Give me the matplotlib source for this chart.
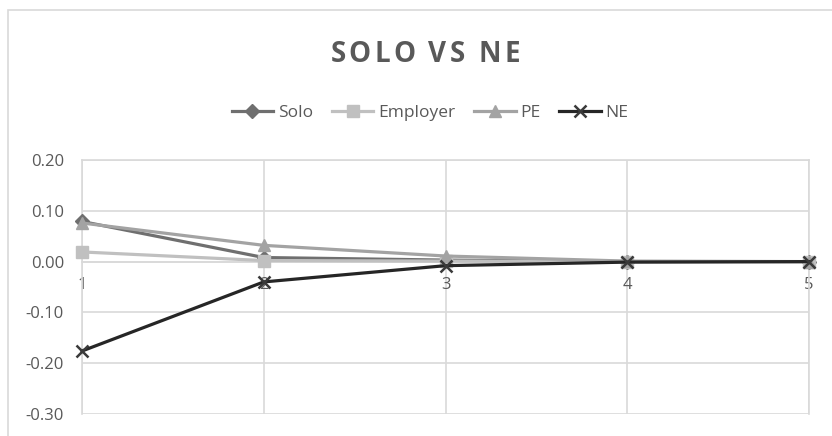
import matplotlib
matplotlib.use("Agg")
import matplotlib.pyplot as plt
from matplotlib.patches import Rectangle

categories = [1, 2, 3, 4, 5]
solo = [0.079, 0.008, 0.003, 0.000, 0.000]
employer = [0.019, 0.002, 0.001, 0.000, 0.000]
pe = [0.076, 0.032, 0.011, 0.001, 0.000]
ne = [-0.176, -0.040, -0.008, -0.001, 0.000]
yticks = [-0.30, -0.20, -0.10, 0.00, 0.10, 0.20]
title = "SOLO VS NE"

plt.rcParams['font.family'] = ['Open Sans', 'DejaVu Sans']

W, H = 832, 436
fig = plt.figure(figsize=(W/100, H/100), dpi=100)
fig.patch.set_facecolor('white')
fig.patches.append(Rectangle((8/W, -0.1), 1.2, (H-10)/H + 0.1, transform=fig.transFigure,
                             fill=False, edgecolor='#d9d9d9', linewidth=1.2))

ax = fig.add_axes([82/W, (H-414)/H, (809-82)/W, (414-160)/H])

series = [
    ("Solo", solo, '#6f6f6f', 'D', 7),
    ("Employer", employer, '#c0c0c0', 's', 8),
    ("PE", pe, '#a3a3a3', '^', 9),
    ("NE", ne, '#262626', 'x', 8),
]
for name, vals, col, mk, ms in series:
    if mk == 'x':
        ax.plot(categories, vals, color=col, linewidth=2.3, marker=mk, markersize=ms,
                markeredgewidth=1.8, markeredgecolor='#3a3a3a', label=name, zorder=5,
                clip_on=False)
    else:
        ax.plot(categories, vals, color=col, linewidth=2.3, marker=mk, markersize=ms,
                markeredgecolor=col, label=name, zorder=4, clip_on=False)

ax.set_xlim(1, 5)
ax.set_ylim(-0.30, 0.20)
ax.set_yticks(yticks)
ax.set_yticklabels([f"{v:.2f}" for v in yticks])
ax.set_xticks(categories)
ax.set_xticklabels([str(c) for c in categories])
ax.grid(True, color='#d9d9d9', linewidth=1.2)
ax.set_axisbelow(True)
for s in ['top', 'right', 'left']:
    ax.spines[s].set_color('#d9d9d9')
    ax.spines[s].set_linewidth(1.2)
ax.spines['bottom'].set_position(('data', 0))
ax.spines['bottom'].set_color('#d9d9d9')
ax.spines['bottom'].set_linewidth(1.2)
ax.tick_params(axis='both', length=0, labelsize=12, colors='#595959')
ax.tick_params(axis='y', pad=13)
ax.tick_params(axis='x', pad=11)

# Title with letter spacing
renderer = fig.canvas.get_renderer()
tkw = dict(fontsize=20, fontweight='bold', color='#595959', va='center')
def text_w(s):
    t = fig.text(0, 0, s, **tkw)
    w = t.get_window_extent(renderer).width
    t.remove()
    return w
spacing = 3.2
wI = text_w("I")
adv = [text_w(title[:i] + "I") - wI if i > 0 else 0 for i in range(len(title) + 1)]
total = adv[-1] + spacing * (len(title) - 1)
x0 = (W - total) / 2 + 9
yc = (H - 54) / H
for i, ch in enumerate(title):
    if ch == ' ':
        continue
    fig.text((x0 + adv[i] + spacing * i) / W, yc, ch, ha='left', **tkw)

leg = fig.legend(loc='center', bbox_to_anchor=(430/W, (H-113)/H), ncol=4, frameon=False,
                 fontsize=12.5, handlelength=2.4, columnspacing=1.1, handletextpad=0.25)
for t in leg.get_texts():
    t.set_color('#595959')

fig.savefig("out.png", dpi=100, facecolor='white')
